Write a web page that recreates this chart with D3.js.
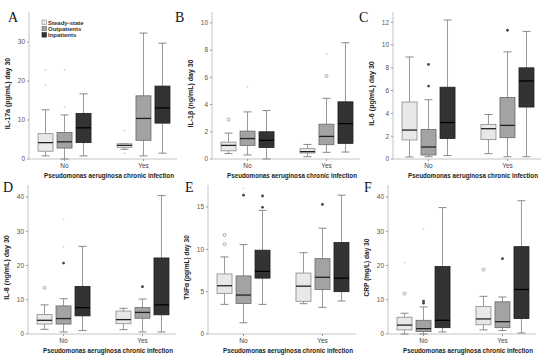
<!DOCTYPE html>
<html>
<head>
<meta charset="utf-8">
<script src="https://d3js.org/d3.v7.min.js"></script>
<style>
  body { margin: 0; background: #fff; }
  text { font-family: "Liberation Sans", Arial, sans-serif; }
</style>
</head>
<body>
<div id="vis"></div>
<script>
  // groups on the x axis and the three patient series
  var groups = ["No", "Yes"]
  var series = ["Steady-state", "Outpatients", "Inpatients"]
  var panelLetters = ["A", "B", "C", "D", "E", "F"]
  var yTitles = ["IL-17a (pg/mL) day 30", "IL-1\u03b2 (ng/mL) day 30", "IL-6 (pg/mL) day 30",
                 "IL-8 (ng/mL) day 30", "TNF\u03b1 (pg/mL) day 30", "CRP (mg/L) day 30"]
  var xTitle = "Pseudomonas aeruginosa chronic infection"

  // y ticks per panel
  var ticksA = [0, 10, 20, 30]
  var ticksB = [0, 2, 4, 6, 8, 10]
  var ticksC = [0, 2, 4, 6, 8, 10, 12]
  var ticksD = [0, 10, 20, 30, 40]
  var ticksE = [0, 5, 10, 15]
  var ticksF = [0, 10, 20, 30, 40]

  // box stats [whisker low, q1, median, q3, whisker high]
  // order: No steady, No out, No in, Yes steady, Yes out, Yes in
  var boxesA = [[0.8, 2.0, 4.2, 6.5, 12.6], [0, 2.8, 4.4, 6.8, 11.3], [0.8, 4.2, 8.0, 11.7, 16.7],
                [2.5, 3.0, 3.5, 3.9, 3.9], [0.8, 4.8, 10.4, 16.2, 32.3], [1.5, 9.2, 13.1, 18.7, 29.7]]
  var boxesB = [[0.4, 0.6, 1.0, 1.24, 1.9], [0.3, 1.0, 1.5, 2.05, 3.46], [0, 0.85, 1.37, 2.0, 3.56],
                [0.17, 0.44, 0.54, 0.76, 1.07], [0.49, 1.05, 1.66, 2.56, 4.46], [0.51, 1.15, 2.6, 4.2, 8.54]]
  var boxesC = [[0.18, 1.67, 2.54, 5.0, 8.95], [0.2, 0.35, 1.05, 2.6, 5.2], [0.3, 1.8, 3.2, 6.3, 12.2],
                [0.47, 1.7, 2.66, 3.04, 3.9], [0.2, 1.87, 2.95, 5.4, 9.4], [0.2, 4.56, 6.85, 8.0, 11.2]]
  var boxesD = [[1.37, 2.9, 4.0, 5.66, 8.5], [0.6, 2.9, 4.5, 8.2, 10.3], [1.0, 5.3, 7.7, 13.9, 25.6],
                [1.27, 3.0, 4.2, 6.7, 7.5], [0.6, 4.6, 6.3, 7.7, 10.2], [0.6, 5.6, 8.5, 22.2, 40.4]]
  var boxesE = [[3.5, 4.8, 5.7, 7.1, 9.1], [1.32, 3.6, 4.6, 6.86, 10.56], [3.5, 6.6, 7.4, 9.9, 14.6],
                [3.58, 3.86, 5.65, 7.2, 9.6], [3.15, 5.26, 6.7, 8.9, 12.5], [3.9, 5.0, 6.6, 10.8, 16.4]]
  var boxesF = [[0, 1.2, 2.6, 4.9, 6.05], [0, 0.7, 1.56, 4.0, 7.9], [0.6, 1.85, 4.0, 19.7, 36.9],
                [1.2, 2.7, 4.4, 8.0, 11.0], [1.0, 1.85, 3.6, 9.4, 10.8], [0.3, 4.5, 13.0, 25.5, 38.9]]

  // outliers [box index, value, kind]  kind: o = circle, * = extreme, f = faint
  var outA = [[0, 22.8, "f"], [0, 19.0, "f"], [1, 13.3, "f"], [1, 22.8, "f"], [3, 7.3, "f"], [3, 1.5, "f"]]
  var outB = [[0, 2.9, "o"], [1, 5.3, "f"], [4, 6.1, "o"], [4, 7.7, "f"]]
  var outC = [[1, 8.3, "*"], [1, 6.4, "*"], [4, 11.3, "*"]]
  var outD = [[0, 13.5, "o"], [1, 20.7, "*"], [1, 25.5, "f"], [1, 33.4, "f"], [4, 13.8, "*"]]
  var outE = [[0, 11.7, "o"], [0, 10.6, "o"], [1, 16.4, "*"], [1, 17.2, "f"], [2, 16.3, "*"], [2, 14.96, "*"], [4, 15.3, "*"]]
  var outF = [[0, 11.8, "o"], [0, 20.9, "f"], [1, 9.6, "*"], [1, 9.0, "*"], [1, 30.7, "f"], [3, 18.8, "o"], [4, 22.0, "*"]]

  var allBoxes = [boxesA, boxesB, boxesC, boxesD, boxesE, boxesF]
  var allOut = [outA, outB, outC, outD, outE, outF]
  var allTicks = [ticksA, ticksB, ticksC, ticksD, ticksE, ticksF]

  // layout for each panel
  var yMax = [37.7, 10.8, 12.9, 43.5, 17.6, 43.5]
  var axisX = [29, 212, 393, 28, 208, 388]
  var letterX = [8, 175, 359, 3, 185, 364]
  var rowTop = [12, 185], rowBottom = [159, 334]

  var fills = ["#e8e8e8", "#a3a3a3", "#333333"]
  var strokes = ["#8a8a8a", "#6a6a6a", "#1e1e1e"]

  var svg = d3.select("#vis").append("svg")
    .attr("width", 550).attr("height", 362)

  function drawPanel(p) {
    var row = p < 3 ? 0 : 1
    var ax = axisX[p], yTop = rowTop[row], yBot = rowBottom[row]
    var g = svg.append("g")

    var y = d3.scaleLinear().domain([0, yMax[p]]).range([yBot, yTop])
    var x = d3.scalePoint().domain(groups).range([ax, ax + 150]).padding(0.45)

    // axes lines
    g.append("line").attr("x1", ax).attr("x2", ax).attr("y1", yTop).attr("y2", yBot)
      .attr("stroke", "#c4c4c4")
    g.append("line").attr("x1", ax).attr("x2", ax + 148).attr("y1", yBot).attr("y2", yBot)
      .attr("stroke", "#c4c4c4")

    // y ticks
    allTicks[p].forEach(function(t) {
      g.append("line").attr("x1", ax - 2).attr("x2", ax).attr("y1", y(t)).attr("y2", y(t))
        .attr("stroke", "#999")
      g.append("text").attr("x", ax - 4).attr("y", y(t) + 2.3).attr("text-anchor", "end")
        .attr("font-size", 6.5).attr("fill", "#555").text(t)
    })

    // x ticks
    groups.forEach(function(gr) {
      g.append("line").attr("x1", x(gr)).attr("x2", x(gr)).attr("y1", yBot).attr("y2", yBot + 2)
        .attr("stroke", "#999")
      g.append("text").attr("x", x(gr)).attr("y", yBot + 9).attr("text-anchor", "middle")
        .attr("font-size", 6.5).attr("fill", "#444").text(gr)
    })

    // boxes
    var bw = 15, step = 19
    allBoxes[p].forEach(function(b, i) {
      var s = i % 3
      var cx = x(groups[Math.floor(i / 3)]) + (s - 1) * step
      // whiskers
      g.append("line").attr("x1", cx).attr("x2", cx).attr("y1", y(b[4])).attr("y2", y(b[3]))
        .attr("stroke", "#9a9a9a")
      g.append("line").attr("x1", cx).attr("x2", cx).attr("y1", y(b[1])).attr("y2", y(b[0]))
        .attr("stroke", "#9a9a9a")
      g.append("line").attr("x1", cx - 4).attr("x2", cx + 4).attr("y1", y(b[4])).attr("y2", y(b[4]))
        .attr("stroke", "#888")
      g.append("line").attr("x1", cx - 4).attr("x2", cx + 4).attr("y1", y(b[0])).attr("y2", y(b[0]))
        .attr("stroke", "#888")
      g.append("rect").attr("x", cx - bw / 2).attr("y", y(b[3]))
        .attr("width", bw).attr("height", Math.max(1, y(b[1]) - y(b[3])))
        .attr("fill", fills[s]).attr("stroke", strokes[s]).attr("stroke-width", 0.8)
      g.append("line").attr("x1", cx - bw / 2).attr("x2", cx + bw / 2).attr("y1", y(b[2])).attr("y2", y(b[2]))
        .attr("stroke", s == 2 ? "#000" : "#222").attr("stroke-width", 1.3)
    })

    // outliers
    allOut[p].forEach(function(o) {
      var s = o[0] % 3
      var cx = x(groups[Math.floor(o[0] / 3)]) + (s - 1) * step
      var c = g.append("circle").attr("cx", cx).attr("cy", y(o[1]))
      if (o[2] == "o") c.attr("r", 1.5).attr("fill", "#fff").attr("stroke", "#888").attr("stroke-width", 0.7)
      else if (o[2] == "*") c.attr("r", 1.4).attr("fill", "#444")
      else c.attr("r", 1).attr("fill", "#d6d6d6")
    })

    // y title
    var ly = (yTop + yBot) / 2 + 8
    g.append("text").attr("transform", "translate(" + (ax - 19) + "," + ly + ") rotate(-90)")
      .attr("text-anchor", "middle").attr("font-size", 7).attr("font-weight", "bold")
      .attr("fill", "#222").attr("textLength", yTitles[p].length * 3.4)
      .attr("lengthAdjust", "spacingAndGlyphs").text(yTitles[p])

    // x title
    g.append("text").attr("x", ax + 80).attr("y", yBot + 19).attr("text-anchor", "middle")
      .attr("font-size", 8).attr("font-weight", "bold").attr("fill", "#222")
      .attr("textLength", 130).attr("lengthAdjust", "spacingAndGlyphs").text(xTitle)

    // panel letter
    g.append("text").attr("x", letterX[p]).attr("y", yTop + (row == 0 ? 10 : 7))
      .style("font-family", "'Liberation Serif', serif").attr("font-size", 14)
      .attr("fill", "#111").text(panelLetters[p])
  }

  for (var p = 0; p < 6; p++) drawPanel(p)

  // legend in panel A
  var leg = svg.append("g").attr("transform", "translate(42,20)")
  series.forEach(function(s, i) {
    leg.append("rect").attr("x", 0).attr("y", i * 6.3).attr("width", 4.5).attr("height", 4.5)
      .attr("fill", fills[i]).attr("stroke", strokes[i]).attr("stroke-width", 0.6)
    leg.append("text").attr("x", 6).attr("y", i * 6.3 + 4.5).attr("font-size", 6)
      .attr("font-weight", "bold").attr("fill", "#333").text(s)
  })
</script>
</body>
</html>
